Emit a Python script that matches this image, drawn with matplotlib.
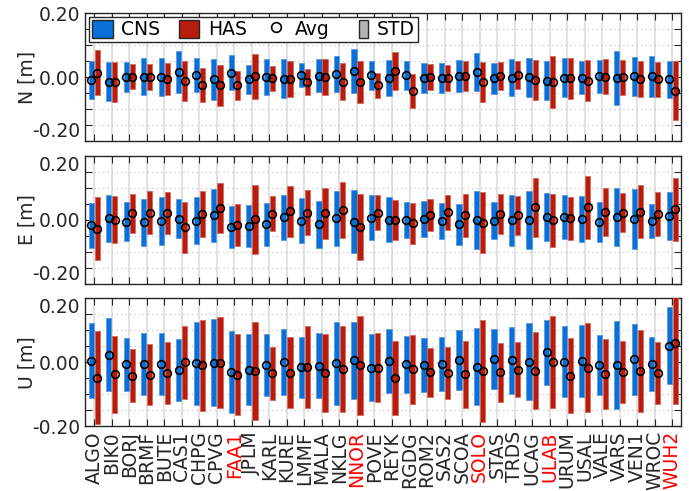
import matplotlib
matplotlib.use("Agg")
import matplotlib.pyplot as plt
from matplotlib.patches import Patch, Rectangle
from matplotlib.lines import Line2D
from matplotlib.legend_handler import HandlerPatch

plt.rcParams["font.family"] = "DejaVu Sans"

stations = ["ALGO", "BIK0", "BORJ", "BRMF", "BUTE", "CAS1", "CHPG", "CPVG", "FAA1",
            "JPLM", "KARL", "KURE", "LMMF", "MALA", "NKLG", "NNOR", "POVE", "REYK",
            "RGDG", "ROM2", "SAS2", "SCOA", "SOLO", "STAS", "TRDS", "UCAG", "ULAB",
            "URUM", "USAL", "VALE", "VARS", "VEN1", "WROC", "WUH2"]
red_stations = ["FAA1", "NNOR", "SOLO", "ULAB", "WUH2"]

# North [m]
n_cns_avg = [-0.010, -0.014, 0.000, 0.001, 0.000, 0.016, 0.006, -0.007, 0.014, -0.007,
             0.000, -0.005, 0.007, 0.004, 0.009, 0.020, 0.005, -0.004, 0.005, -0.002,
             -0.002, 0.004, 0.016, -0.004, -0.002, -0.001, -0.011, -0.002, -0.002, 0.002,
             -0.003, 0.002, 0.002, -0.007]
n_cns_std = [0.059, 0.062, 0.048, 0.058, 0.059, 0.065, 0.054, 0.064, 0.054, 0.046,
             0.055, 0.060, 0.038, 0.052, 0.056, 0.069, 0.046, 0.056, 0.045, 0.047,
             0.047, 0.049, 0.059, 0.049, 0.057, 0.062, 0.061, 0.061, 0.052, 0.051,
             0.084, 0.060, 0.063, 0.058]
n_has_avg = [0.013, -0.015, 0.001, 0.000, -0.005, -0.013, -0.025, -0.026, -0.025, 0.002,
             -0.003, -0.006, -0.015, 0.000, -0.014, -0.016, -0.026, 0.020, -0.043, 0.000,
             -0.003, 0.004, -0.016, 0.004, 0.007, -0.010, -0.016, -0.004, -0.011, 0.001,
             -0.001, -0.007, -0.007, -0.043]
n_has_std = [0.070, 0.062, 0.039, 0.041, 0.050, 0.063, 0.054, 0.063, 0.045, 0.069,
             0.039, 0.055, 0.041, 0.057, 0.057, 0.065, 0.039, 0.059, 0.054, 0.040,
             0.040, 0.046, 0.063, 0.043, 0.043, 0.063, 0.082, 0.064, 0.064, 0.055,
             0.054, 0.056, 0.054, 0.092]

# East [m]
e_cns_avg = [-0.017, 0.005, -0.005, -0.007, -0.003, 0.004, -0.003, 0.014, -0.022, -0.019,
             -0.014, 0.008, -0.002, -0.014, 0.005, -0.005, 0.007, 0.000, -0.001, 0.003,
             -0.003, -0.014, -0.001, -0.002, -0.001, 0.000, 0.009, 0.008, 0.003, -0.006,
             0.009, 0.003, -0.003, 0.012]
e_cns_std = [0.071, 0.073, 0.062, 0.073, 0.076, 0.060, 0.073, 0.084, 0.067, 0.066,
             0.067, 0.071, 0.070, 0.074, 0.085, 0.098, 0.071, 0.070, 0.056, 0.057,
             0.057, 0.065, 0.090, 0.059, 0.079, 0.090, 0.074, 0.069, 0.071, 0.063,
             0.091, 0.093, 0.054, 0.074]
e_has_avg = [-0.027, 0.001, 0.021, 0.023, 0.022, -0.023, 0.018, 0.037, -0.015, 0.002,
             0.020, 0.027, 0.023, 0.021, 0.032, -0.022, 0.023, 0.000, -0.010, 0.015,
             0.024, 0.014, -0.009, 0.018, 0.014, 0.040, -0.001, 0.005, 0.039, 0.025,
             0.023, 0.026, 0.018, 0.033]
e_has_std = [0.098, 0.073, 0.061, 0.066, 0.065, 0.079, 0.072, 0.079, 0.066, 0.107,
             0.056, 0.079, 0.070, 0.080, 0.087, 0.104, 0.054, 0.063, 0.064, 0.049,
             0.055, 0.067, 0.095, 0.062, 0.060, 0.092, 0.082, 0.067, 0.098, 0.074,
             0.061, 0.083, 0.069, 0.098]

# Up [m]
u_cns_avg = [0.004, 0.023, -0.006, -0.005, -0.005, -0.024, -0.004, -0.002, -0.032, -0.023,
             -0.008, 0.000, -0.016, -0.011, -0.004, 0.006, -0.017, 0.005, -0.007, -0.008,
             -0.005, 0.007, -0.014, 0.010, 0.006, 0.002, 0.031, 0.002, 0.004, -0.008,
             -0.008, 0.009, -0.006, 0.052]
u_cns_std = [0.117, 0.114, 0.083, 0.096, 0.097, 0.098, 0.131, 0.136, 0.128, 0.110,
             0.096, 0.103, 0.096, 0.101, 0.128, 0.121, 0.104, 0.100, 0.090, 0.085,
             0.084, 0.093, 0.120, 0.095, 0.104, 0.121, 0.101, 0.110, 0.112, 0.094,
             0.137, 0.110, 0.085, 0.120]
u_has_avg = [-0.048, -0.038, -0.042, -0.039, -0.034, 0.000, -0.009, -0.001, -0.039, -0.028,
             -0.034, -0.033, -0.016, -0.033, -0.021, -0.010, -0.017, -0.050, -0.022, -0.032,
             -0.034, -0.038, -0.027, -0.032, -0.023, -0.026, 0.000, -0.042, -0.017, -0.038,
             -0.030, -0.027, -0.034, 0.061]
u_has_std = [0.146, 0.121, 0.083, 0.095, 0.097, 0.114, 0.142, 0.141, 0.127, 0.152,
             0.083, 0.111, 0.128, 0.121, 0.134, 0.154, 0.107, 0.116, 0.108, 0.077,
             0.082, 0.105, 0.160, 0.093, 0.086, 0.121, 0.143, 0.117, 0.139, 0.109,
             0.096, 0.128, 0.096, 0.190]

panels = [
    ("N [m]", n_cns_avg, n_cns_std, n_has_avg, n_has_std),
    ("E [m]", e_cns_avg, e_cns_std, e_has_avg, e_has_std),
    ("U [m]", u_cns_avg, u_cns_std, u_has_avg, u_has_std),
]

blue = "#0a6fd6"
red = "#b81c0c"
dark = "#262626"

x = list(range(1, len(stations) + 1))
fig = plt.figure(figsize=(6.89, 4.91), dpi=100)
bottoms = [0.7125, 0.4216, 0.1318]

axes = []
for k, ((label, c_avg, c_std, h_avg, h_std), b) in enumerate(zip(panels, bottoms)):
    ax = fig.add_axes([0.124, b, 0.8645, 0.261])
    axes.append(ax)
    xc = [i - 0.175 for i in x]
    xh = [i + 0.175 for i in x]
    ax.bar(xc, [2 * s for s in c_std], bottom=[a - s for a, s in zip(c_avg, c_std)],
           width=0.3, color=blue, edgecolor="#5a9be0", linewidth=0.6, zorder=3)
    ax.bar(xh, [2 * s for s in h_std], bottom=[a - s for a, s in zip(h_avg, h_std)],
           width=0.3, color=red, edgecolor="#d46a5e", linewidth=0.6, zorder=3)
    ax.plot(xc, c_avg, "o", ms=5.5, mfc="none", mec="black", mew=1.2, zorder=4)
    ax.plot(xh, h_avg, "o", ms=5.5, mfc="none", mec="black", mew=1.2, zorder=4)

    ax.set_xlim(0.5, len(stations) + 0.5)
    ax.set_ylim(-0.2, 0.2)
    ax.set_xticks(x)
    ax.set_yticks([-0.2, -0.15, -0.1, -0.05, 0, 0.05, 0.1, 0.15, 0.2])
    ax.set_yticklabels(["-0.20", "", "", "", "0.00", "", "", "", "0.20"])
    ylabs = ax.get_yticklabels()
    if k < 2:
        ylabs[0].set_va("bottom")
    if k > 0:
        ylabs[-1].set_va("top")
    for v in x:
        ax.axvline(v, color="#e2e2e2", lw=1.5, zorder=1)
    for v in [-0.15, -0.1, -0.05, 0, 0.05, 0.1, 0.15]:
        ax.axhline(v, color="#bdbdbd", lw=0.8, ls=(0, (1, 3)), zorder=1)
    ax.tick_params(direction="in", top=True, right=True, length=5, width=0.8,
                   colors=dark, labelsize=13.5, labelcolor="#262626")
    for sp in ax.spines.values():
        sp.set_color(dark)
        sp.set_linewidth(1.0)
    ax.set_ylabel(label, fontsize=13.5, color="#262626", labelpad=-3)
    if k < 2:
        ax.set_xticklabels([])
    else:
        ax.set_xticklabels(stations, rotation=90, fontsize=13.5)
        for t in ax.get_xticklabels():
            if t.get_text() in red_stations:
                t.set_color("red")


class NarrowPatch(HandlerPatch):
    def __init__(self):
        super().__init__(patch_func=self.make)

    @staticmethod
    def make(legend, orig_handle, xdescent, ydescent, width, height, fontsize):
        return Rectangle((-xdescent + 0.55 * width, -ydescent), 0.4 * width, height)


std_handle = Patch(facecolor="#b3b3b3", edgecolor=dark, linewidth=1.0)
handles = [
    Patch(facecolor=blue, edgecolor=dark, linewidth=1.0),
    Patch(facecolor=red, edgecolor=dark, linewidth=1.0),
    Line2D([], [], ls="none", marker="o", ms=7, mfc="white", mec="black", mew=1.2),
    std_handle,
]
leg = axes[0].legend(handles, ["CNS", "HAS", "Avg", "STD"], ncol=4, loc="upper left",
                     bbox_to_anchor=(0, 1), borderaxespad=0.2, fontsize=13.5,
                     handlelength=1.1, handleheight=1.1, handletextpad=0.45,
                     columnspacing=1.0, borderpad=0.15, fancybox=False,
                     framealpha=1, edgecolor=dark,
                     handler_map={std_handle: NarrowPatch()})
leg.get_frame().set_linewidth(1.0)
leg.set_zorder(10)

fig.savefig("out.png", dpi=100)
